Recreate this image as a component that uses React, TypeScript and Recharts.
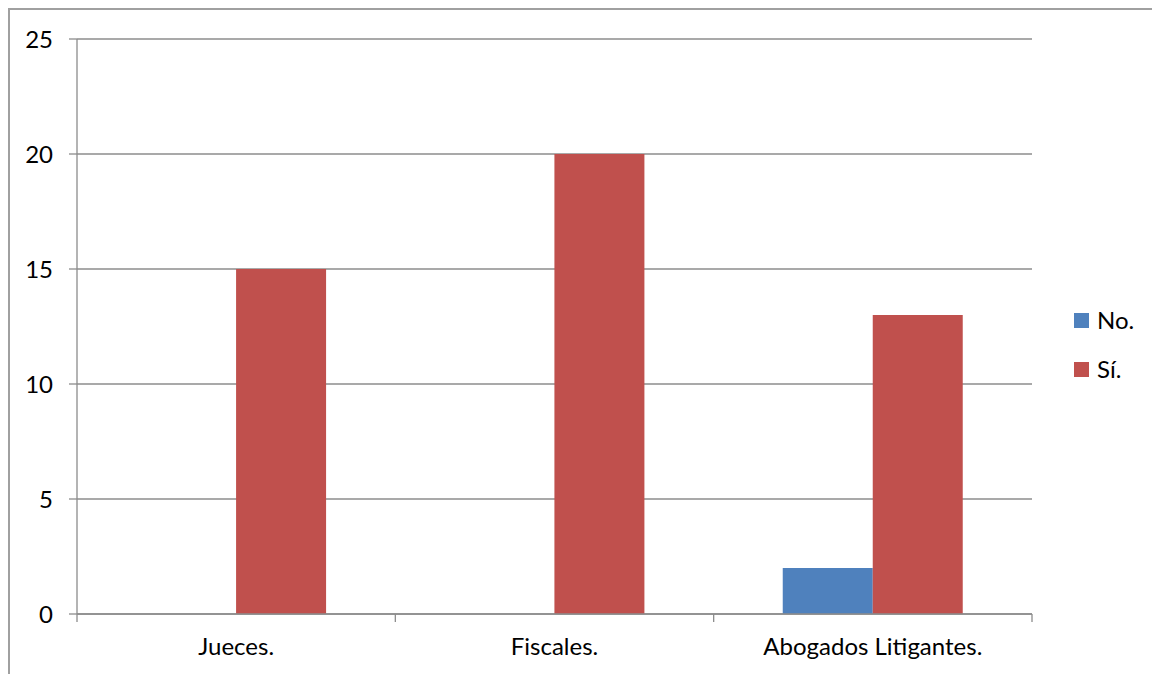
import React from "react";
import { BarChart, Bar, XAxis, YAxis, CartesianGrid } from "recharts";

const categories = ["Jueces.", "Fiscales.", "Abogados Litigantes."];
const noValues = [0, 0, 2];
const siValues = [15, 20, 13];
const yTicks = [0, 5, 10, 15, 20, 25];

const seriesNames = ["No.", "Sí."];
const seriesColors = ["#4F81BD", "#C0504D"];

const data = categories.map((c, i) => ({ name: c, no: noValues[i], si: siValues[i] }));

const FONT = "Lato, 'Open Sans', sans-serif";
const FONT_SIZE = 24;
const GRID = "#8c8c8c";

// Category label plus tick marks on the band edges (Excel-style "between" ticks)
function CategoryTick(props: any) {
  const { x, y, payload, index, visibleTicksCount } = props;
  const half = payload.offset ?? 0;
  const isLast = index === visibleTicksCount - 1;
  return (
    <g>
      <line x1={x - half} x2={x - half} y1={y} y2={y + 8} stroke={GRID} strokeWidth={1.3} />
      {isLast && <line x1={x + half} x2={x + half} y1={y} y2={y + 8} stroke={GRID} strokeWidth={1.3} />}
      <text x={x} y={y + 41} textAnchor="middle" fill="#000" fontSize={FONT_SIZE} fontFamily={FONT}>
        {payload.value}
      </text>
    </g>
  );
}

function LegendBox() {
  return (
    <div
      style={{
        position: "absolute",
        left: 1064,
        top: 297,
        fontFamily: FONT,
        fontSize: FONT_SIZE,
        color: "#000",
        lineHeight: "26px",
      }}
    >
      {seriesNames.map((n, i) => (
        <div key={n} style={{ display: "flex", alignItems: "center", height: 26, marginBottom: 23 }}>
          <div style={{ width: 15, height: 15, background: seriesColors[i], marginRight: 8 }} />
          <span>{n}</span>
        </div>
      ))}
    </div>
  );
}

export default function App() {
  return (
    <div
      style={{
        position: "relative",
        width: 1149,
        height: 680,
        border: "2px solid #a0a0a0",
        borderBottom: "none",
        background: "#fff",
      }}
    >
      <BarChart
        width={1149}
        height={680}
        data={data}
        margin={{ top: 29, right: 127, bottom: 26, left: 0 }}
        barCategoryGap="21.7%"
        barGap={0}
      >
        <CartesianGrid vertical={false} stroke={GRID} strokeWidth={1.3} />
        <XAxis
          dataKey="name"
          height={50}
          interval={0}
          axisLine={{ stroke: GRID, strokeWidth: 1.3 }}
          tickLine={false}
          tickSize={0}
          tickMargin={0}
          tick={CategoryTick}
        />
        <YAxis
          width={67}
          domain={[0, 25]}
          ticks={yTicks}
          interval={0}
          tickSize={8}
          tickMargin={16}
          axisLine={{ stroke: GRID, strokeWidth: 1.3 }}
          tickLine={{ stroke: GRID, strokeWidth: 1.3 }}
          tick={{ fill: "#000", fontSize: FONT_SIZE, fontFamily: FONT }}
        />
        <Bar dataKey="no" name="No." fill={seriesColors[0]} isAnimationActive={false} />
        <Bar dataKey="si" name="Sí." fill={seriesColors[1]} isAnimationActive={false} />
      </BarChart>
      <LegendBox />
    </div>
  );
}
